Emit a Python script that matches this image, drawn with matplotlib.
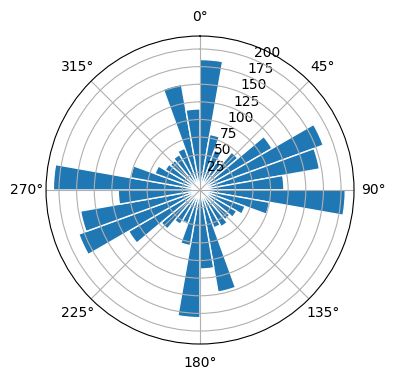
import numpy as np
import matplotlib
matplotlib.use("Agg")
import matplotlib.pyplot as plt

# Bin start angles (degrees, clockwise from north) and counts
bin_start_deg = [0, 10, 20, 30, 40, 50, 60, 70, 80,
                 90, 100, 110, 120, 130, 140, 150, 160, 170,
                 180, 190, 200, 210, 220, 230, 240, 250, 260,
                 270, 280, 290, 300, 310, 320, 330, 340, 350]
counts = [185, 80, 60, 45, 70, 118, 186, 172, 119,
          206, 100, 68, 60, 55, 60, 57, 147, 112,
          181, 80, 50, 56, 72, 117, 183, 172, 116,
          208, 100, 68, 57, 55, 58, 63, 152, 115]
bin_width_deg = 10

fig = plt.figure(figsize=(3.96, 3.80), dpi=100)
ax = fig.add_axes([0.1162, 0.0947, 0.7778, 0.8105], projection='polar')
ax.set_theta_zero_location('N')
ax.set_theta_direction(-1)

theta = np.deg2rad(bin_start_deg)
ax.bar(theta, counts, width=np.deg2rad(bin_width_deg), align='edge',
       color='#1f77b4', edgecolor='white', linewidth=1)
ax.set_rticks([25, 50, 75, 100, 125, 150, 175, 200])

fig.savefig('out.png', dpi=100)
